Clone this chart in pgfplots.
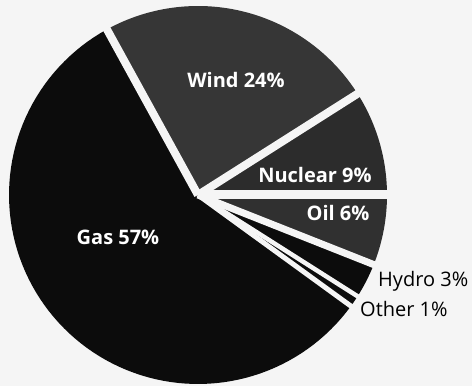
\documentclass[border=0pt]{standalone}
\usepackage{pgfplots}
\pgfplotsset{compat=1.18}
\usepackage{pgfplotstable}
\usepackage{fontspec}
\setmainfont{Open Sans}

\definecolor{paper}{HTML}{F5F5F5}
\definecolor{gasfill}{HTML}{0C0C0C}
\definecolor{windfill}{HTML}{363636}
\definecolor{nuclearfill}{HTML}{2C2C2C}
\definecolor{oilfill}{HTML}{303030}
\definecolor{minorfill}{HTML}{0C0C0C}

% Generation mix, percent; slices run counter-clockwise from 3 o'clock.
% gap = width (pt) of the white cut at the slice's leading edge
\pgfplotstableread{
source  share tone        gap
Nuclear 9     nuclearfill 9
Wind    24    windfill    8
Gas     57    gasfill     8
Other   1     minorfill   5
Hydro   3     minorfill   4.5
Oil     6     oilfill     7
}\mixtable

\def\cx{198}
\def\cy{191}
\def\rr{189}

\begin{document}
\begin{tikzpicture}
\begin{axis}[
  width=472pt, height=386pt, scale only axis,
  hide axis,
  xmin=0, xmax=472, ymin=0, ymax=386,
  clip=true,
]
\fill[paper] (rel axis cs:0,0) rectangle (rel axis cs:1,1);

\pgfplotstablegetrowsof{\mixtable}
\pgfmathtruncatemacro\lastrow{\pgfplotsretval-1}

% slices
\gdef\acc{0}
\pgfplotsforeachungrouped \i in {0,...,\lastrow}{%
  \pgfplotstablegetelem{\i}{share}\of\mixtable
  \pgfmathsetmacro\endacc{\acc+\pgfplotsretval}
  \pgfmathsetmacro\angA{3.6*\acc}
  \pgfmathsetmacro\angB{3.6*\endacc}
  \pgfplotstablegetelem{\i}{tone}\of\mixtable
  \edef\slice{\noexpand\addplot[fill=\pgfplotsretval, draw=none,
      domain=\angA:\angB, samples=90]
      ({\cx+\rr*cos(x)},{\cy+\rr*sin(x)}) -- (axis cs:\cx,\cy) -- cycle;}%
  \slice
  \global\let\acc\endacc
}

% white gaps between the slices
\gdef\acc{0}
\pgfplotsforeachungrouped \i in {0,...,\lastrow}{%
  \pgfplotstablegetelem{\i}{share}\of\mixtable
  \pgfmathsetmacro\endacc{\acc+\pgfplotsretval}
  \pgfmathsetmacro\angA{3.6*\acc}
  \pgfmathsetmacro\ex{\cx+(\rr+20)*cos(\angA)}
  \pgfmathsetmacro\ey{\cy+(\rr+20)*sin(\angA)}
  \pgfplotstablegetelem{\i}{gap}\of\mixtable
  \edef\cut{\noexpand\addplot[paper, line width=\pgfplotsretval pt]
      coordinates {(\cx,\cy) (\ex,\ey)};}%
  \cut
  \global\let\acc\endacc
}

% labels
\tikzset{inlab/.style={text=white, font=\fontsize{20}{22}\selectfont\bfseries},
         outlab/.style={anchor=west, inner sep=0pt, font=\fontsize{20}{22}\selectfont}}
\node[inlab] at (axis cs:236,306) {Wind 24\%};
\node[inlab] at (axis cs:315,211) {Nuclear 9\%};
\node[inlab] at (axis cs:338,173) {Oil 6\%};
\node[inlab] at (axis cs:118,149) {Gas 57\%};
\node[outlab] at (axis cs:378,105) {Hydro 3\%};
\node[outlab] at (axis cs:360,77) {Other 1\%};
\end{axis}
\end{tikzpicture}
\end{document}
